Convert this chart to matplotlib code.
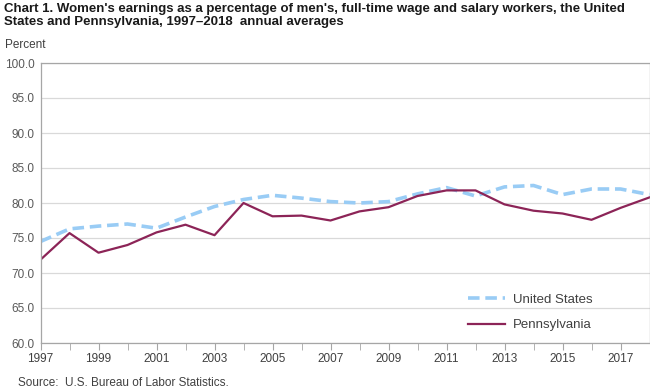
import matplotlib.pyplot as plt
from matplotlib.lines import Line2D

years = list(range(1997, 2019))
united_states = [74.5, 76.3, 76.7, 77.0, 76.4, 78.0, 79.5, 80.5, 81.1, 80.7, 80.2,
                 80.0, 80.2, 81.3, 82.2, 81.0, 82.3, 82.5, 81.2, 82.0, 82.0, 81.2]
pennsylvania = [71.9, 75.7, 72.9, 74.0, 75.8, 76.9, 75.4, 80.0, 78.1, 78.2, 77.5,
                78.8, 79.4, 81.0, 81.8, 81.8, 79.8, 78.9, 78.5, 77.6, 79.3, 80.8]
y_ticks = [60, 65, 70, 75, 80, 85, 90, 95, 100]
x_labels = list(range(1997, 2019, 2))

plt.rcParams['font.family'] = ['Liberation Sans', 'DejaVu Sans']

fig = plt.figure(figsize=(6.5, 3.91), dpi=100)
ax = fig.add_axes([40.5 / 650, 48 / 391, 609 / 650, 280 / 391])

us_col = '#99ccf5'
pa_col = '#8c2457'
ax.plot(years, united_states, color=us_col, lw=2.6, dashes=(3.2, 1.6), label='United States')
ax.plot(years, pennsylvania, color=pa_col, lw=1.6, label='Pennsylvania')

ax.set_xlim(1997, 2018)
ax.set_ylim(60, 100)
ax.set_yticks(y_ticks)
ax.set_yticklabels(['%.1f' % v for v in y_ticks])
ax.set_xticks(x_labels)
ax.set_xticklabels([str(y) for y in x_labels])
ax.set_xticks(years, minor=True)
ax.grid(axis='y', color='#d9d9d9', lw=0.9)
ax.set_axisbelow(True)
for s in ax.spines.values():
    s.set_color('#a6a6a6')
    s.set_linewidth(0.9)
ax.tick_params(axis='y', length=0, labelsize=8.5, colors='#595959', pad=4)
ax.tick_params(axis='x', which='both', length=5, direction='out', color='#a6a6a6',
               labelsize=8.5, labelcolor='#404040', pad=2)

leg_handles = [Line2D([], [], color=us_col, lw=2.6, dashes=(3.2, 1.6)),
               Line2D([], [], color=pa_col, lw=1.6)]
ax.legend(leg_handles, ['United States', 'Pennsylvania'], loc='lower left',
          bbox_to_anchor=(0.683, 0.0), frameon=False, fontsize=9.5, labelcolor='#404040',
          handlelength=2.8, handletextpad=0.6, labelspacing=1.0)

fig.text(0.006, 0.992, "Chart 1. Women's earnings as a percentage of men's, full-time wage and salary workers, the United\n"
         "States and Pennsylvania, 1997\u20132018  annual averages",
         fontsize=9.5, fontweight='bold', va='top', ha='left', color='#1a1a1a', linespacing=1.1)
fig.text(0.008, 0.885, 'Percent', fontsize=8.5, color='#404040', va='center')
fig.text(0.027, 0.02, 'Source:  U.S. Bureau of Labor Statistics.', fontsize=8.5, color='#404040', va='center')

fig.savefig('out.png', dpi=100)
